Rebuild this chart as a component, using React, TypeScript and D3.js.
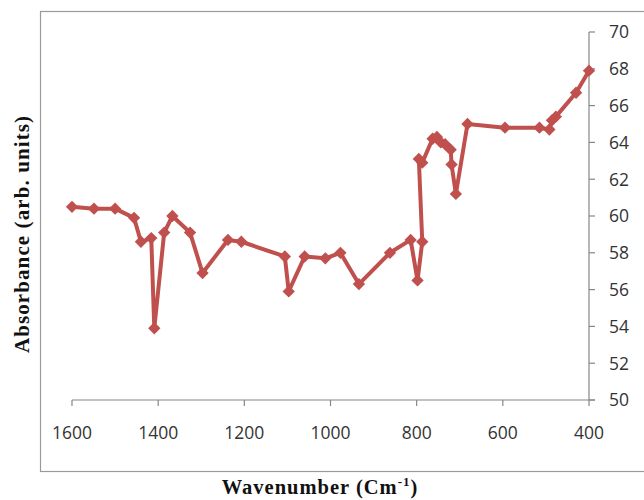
import React from 'react';
import * as d3 from 'd3';

// wavenumber (cm-1) in the order the points are joined
const wavenumber = [
  1600, 1549, 1500, 1456, 1440, 1416, 1409, 1386, 1367, 1326, 1297, 1238, 1207,
  1106, 1097, 1060, 1012, 977, 934, 862, 814, 798, 787, 795, 787, 763, 753, 744,
  734, 721, 719, 709, 682, 595, 515, 492, 486, 477, 430, 400,
];
const absorbance = [
  60.5, 60.4, 60.4, 59.9, 58.6, 58.8, 53.9, 59.1, 60.0, 59.1, 56.9, 58.7, 58.6,
  57.8, 55.9, 57.8, 57.7, 58.0, 56.3, 58.0, 58.7, 56.5, 58.6, 63.1, 62.9, 64.2, 64.3, 64.0,
  63.9, 63.6, 62.8, 61.2, 65.0, 64.8, 64.8, 64.7, 65.2, 65.4, 66.7, 67.9,
];
const xTicks = [1600, 1400, 1200, 1000, 800, 600, 400];
const yTicks = [50, 52, 54, 56, 58, 60, 62, 64, 66, 68, 70];

const width = 644;
const height = 500;
const red = '#C0504D';
const axisColor = '#868686';
const tickFont = '"Open Sans", "Noto Sans", sans-serif';
const titleFont = '"Liberation Serif", "Times New Roman", serif';

export default function App() {
  const x = d3.scaleLinear().domain([1600, 400]).range([72, 589]);
  const y = d3.scaleLinear().domain([50, 70]).range([400, 32]);

  const points = wavenumber.map((w, i) => [x(w), y(absorbance[i])] as [number, number]);
  const line = d3.line()(points) || '';
  const marker = d3.symbol(d3.symbolSquare, 76)() || '';

  return (
    <svg
      width={width}
      height={height}
      style={{ position: 'absolute', left: 0, top: 0, background: '#fff' }}
    >
      {/* chart area border */}
      <rect x={40.5} y={11.5} width={640} height={460} fill="#fff" stroke="#9a9a9a" strokeWidth={1.2} />

      {/* x axis */}
      <g stroke={axisColor} strokeWidth={1.2}>
        <line x1={x(1600)} x2={x(400) + 6} y1={y(50)} y2={y(50)} />
        {xTicks.map(t => (
          <line key={t} x1={x(t)} x2={x(t)} y1={y(50)} y2={y(50) + 6} />
        ))}
      </g>
      {xTicks.map(t => (
        <text
          key={t}
          x={x(t)}
          y={439}
          textAnchor="middle"
          fontFamily={tickFont}
          fontSize={17.5}
          fill="#333"
        >
          {t}
        </text>
      ))}

      {/* y axis on the right */}
      <g stroke={axisColor} strokeWidth={1.2}>
        <line x1={x(400)} x2={x(400)} y1={y(50)} y2={y(70)} />
        {yTicks.map(t => (
          <line key={t} x1={x(400)} x2={x(400) + 6} y1={y(t)} y2={y(t)} />
        ))}
      </g>
      {yTicks.map(t => (
        <text
          key={t}
          x={609}
          y={y(t)}
          dy="0.36em"
          fontFamily={tickFont}
          fontSize={17.5}
          fill="#333"
        >
          {t}
        </text>
      ))}

      {/* series */}
      <path d={line} fill="none" stroke={red} strokeWidth={4} strokeLinejoin="round" />
      {points.map((p, i) => (
        <path key={i} d={marker} transform={`translate(${p[0]},${p[1]}) rotate(45)`} fill={red} />
      ))}

      {/* axis titles */}
      <text
        transform="translate(29,234) rotate(-90)"
        textAnchor="middle"
        fontFamily={titleFont}
        fontWeight="bold"
        fontSize={21}
        letterSpacing={1.1}
        fill="#111"
      >
        Absorbance (arb. units)
      </text>
      <text
        x={320}
        y={494}
        textAnchor="middle"
        fontFamily={titleFont}
        fontWeight="bold"
        fontSize={20.5}
        letterSpacing={1}
        fill="#111"
      >
        Wavenumber (Cm<tspan dy={-8} fontSize={13}>-1</tspan><tspan dy={8}>)</tspan>
      </text>
    </svg>
  );
}
